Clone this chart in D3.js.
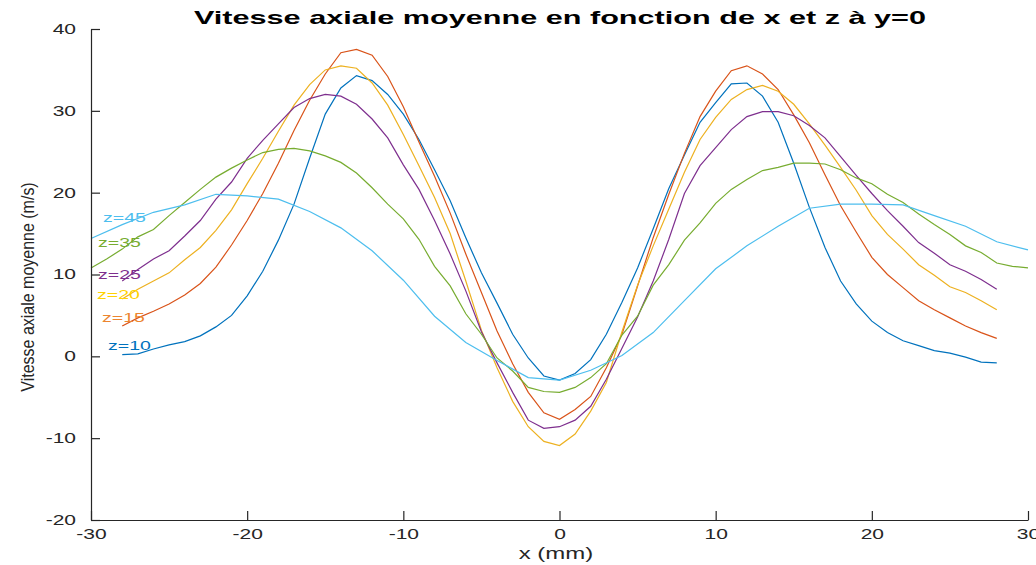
<!DOCTYPE html>
<html>
<head>
<meta charset="utf-8">
<script src="https://cdn.jsdelivr.net/npm/d3@7"></script>
<style>
  body { margin: 0; background: #fff; }
  svg { display: block; }
  text { font-family: "Liberation Sans", Arial, sans-serif; }
</style>
</head>
<body>
<svg width="1036" height="565"></svg>
<script>
// x positions (mm)
var xFine = [-28,-27,-26,-25,-24,-23,-22,-21,-20,-19,-18,-17,-16,-15,-14,-13,-12,-11,-10,-9,-8,-7,-6,-5,-4,-3,-2,-1,
  0,1,2,3,4,5,6,7,8,9,10,11,12,13,14,15,16,17,18,19,20,21,22,23,24,25,26,27,28];
var xWide = [-30,-29,-28,-27,-26,-25,-24,-23,-22,-21,-20,-19,-18,-17,-16,-15,-14,-13,-12,-11,-10,-9,-8,-7,-6,-5,-4,-3,-2,-1,
  0,1,2,3,4,5,6,7,8,9,10,11,12,13,14,15,16,17,18,19,20,21,22,23,24,25,26,27,28,29,30];
var xCoarse = [-30,-28,-26,-24,-22,-20,-18,-16,-14,-12,-10,-8,-6,-4,-2,0,2,4,6,8,10,12,14,16,18,20,22,24,26,28,30];

// mean axial velocity (m/s) for each z
var z10 = [0.2,0.3,0.9,1.4,1.8,2.5,3.6,5.0,7.4,10.4,14.2,18.6,24.2,29.6,32.8,34.3,33.7,32.0,29.6,26.5,
  22.8,19.0,14.5,10.2,6.5,2.7,-0.2,-2.4,-2.9,-2.1,-0.4,2.7,6.6,10.8,15.6,20.5,24.6,28.6,31.0,
  33.3,33.4,31.8,28.6,23.6,18.2,13.3,9.2,6.4,4.3,2.9,1.9,1.3,0.7,0.4,-0.1,-0.7,-0.8];
var z15 = [3.7,4.7,5.5,6.4,7.5,8.9,10.9,13.6,16.6,19.9,23.6,27.6,31.3,34.5,37.1,37.5,36.8,34.2,30.5,26.2,
  22.0,17.5,12.5,7.8,3.1,-0.9,-4.4,-6.9,-7.7,-6.5,-4.9,-1.4,2.7,8.6,14.5,19.8,24.8,29.3,32.4,
  34.9,35.5,34.5,32.6,29.5,26.1,22.2,18.4,15.2,12.1,10.0,8.4,6.8,5.7,4.7,3.7,2.9,2.2];
var z20 = [7.0,8.2,9.2,10.2,11.8,13.3,15.4,17.9,21.1,24.2,27.5,30.7,33.2,35.0,35.5,35.2,33.4,30.7,27.1,23.3,
  19.4,15.0,9.2,3.2,-1.4,-5.5,-8.6,-10.4,-10.9,-9.5,-6.7,-3.2,3.0,8.7,13.5,18.0,22.5,26.5,29.2,
  31.4,32.6,33.1,32.4,30.8,28.4,25.8,23.1,20.3,17.2,14.9,13.1,11.2,9.9,8.5,7.8,6.8,5.7];
var z25 = [9.2,10.6,11.9,12.9,14.7,16.6,19.2,21.3,24.2,26.4,28.4,30.4,31.5,32.0,31.8,30.8,29.0,26.7,23.4,20.4,
  16.6,12.5,8.0,3.0,-0.8,-4.4,-7.8,-8.8,-8.6,-7.8,-6.1,-2.8,1.0,4.8,9.2,14.3,19.9,23.3,25.5,
  27.7,29.3,29.9,29.9,29.4,28.2,26.7,24.4,22.1,19.9,17.8,15.9,13.9,12.6,11.2,10.4,9.4,8.2];
var z35 = [10.8,11.9,13.1,14.6,15.5,17.2,18.8,20.4,21.9,23.0,24.0,24.9,25.3,25.4,25.1,24.5,23.7,22.4,20.6,18.6,
  16.8,14.3,11.0,8.6,5.2,2.7,-0.2,-1.8,-3.8,-4.3,-4.4,-3.8,-2.6,-0.9,2.6,4.9,8.7,11.2,14.2,16.3,18.7,
  20.4,21.6,22.7,23.1,23.6,23.6,23.5,22.8,21.8,21.1,19.8,18.8,17.4,16.1,14.9,13.5,12.7,11.4,11.0,10.8];
var z45 = [14.4,16.1,17.6,18.5,19.8,19.6,19.2,17.7,15.7,12.9,9.3,4.9,1.7,-0.5,-2.6,-2.9,-1.7,0.1,2.9,6.8,
  10.7,13.5,15.9,18.1,18.6,18.6,18.5,17.2,15.9,14.0,13.0];

var seriesNames = ["z=10", "z=15", "z=20", "z=25", "z=35", "z=45"];
var xTicks = [-30, -20, -10, 0, 10, 20, 30];
var yTicks = [-20, -10, 0, 10, 20, 30, 40];

var series = [
  {name: seriesNames[0], xs: xFine, ys: z10, color: "#0072BD", text: "#0072BD", lx: 108, ly: 345},
  {name: seriesNames[1], xs: xFine, ys: z15, color: "#D95319", text: "#EC8530", lx: 102, ly: 317},
  {name: seriesNames[2], xs: xFine, ys: z20, color: "#EDB120", text: "#FFD200", lx: 97, ly: 294},
  {name: seriesNames[3], xs: xFine, ys: z25, color: "#7E2F8E", text: "#7E2F8E", lx: 98, ly: 274},
  {name: seriesNames[4], xs: xWide, ys: z35, color: "#77AC30", text: "#77AC30", lx: 98, ly: 242},
  {name: seriesNames[5], xs: xCoarse, ys: z45, color: "#4DBEEE", text: "#4DBEEE", lx: 103, ly: 217}
];

var svg = d3.select("svg"),
    sx = 1.5; /* text looks stretched sideways */

var x = d3.scaleLinear().domain([-30, 30]).range([91, 1028]);
var y = d3.scaleLinear().domain([-20, 40]).range([520, 29]);

var line = d3.line()
    .x(function(d) { return x(d[0]); })
    .y(function(d) { return y(d[1]); });

svg.append("g").selectAll("path")
  .data(series)
  .enter().append("path")
    .attr("d", function(s) { return line(s.xs.map(function(v, i) { return [v, s.ys[i]]; })); })
    .attr("fill", "none")
    .attr("stroke", function(s) { return s.color; })
    .attr("stroke-width", 1.2);

// axes (plain hyphen for negatives, like the original)
var axisColor = "#262626";
var fmt = function(d) { return String(d); };

var gx = svg.append("g")
    .attr("transform", "translate(0,520)")
    .call(d3.axisBottom(x).tickValues(xTicks).tickFormat(fmt).tickSize(-9).tickSizeOuter(0).tickPadding(9));
var gy = svg.append("g")
    .attr("transform", "translate(91,0)")
    .call(d3.axisLeft(y).tickValues(yTicks).tickFormat(fmt).tickSize(-9).tickSizeOuter(0).tickPadding(10));

[gx, gy].forEach(function(g) {
  g.select(".domain").attr("stroke", axisColor).attr("stroke-width", 1.2);
  g.selectAll(".tick line").attr("stroke", axisColor).attr("stroke-width", 1.2);
  g.selectAll(".tick text")
    .attr("fill", axisColor)
    .style("font-size", "14px")
    .attr("transform", "scale(" + sx + ",1)");
});

// line labels
svg.append("g").selectAll("text")
  .data(series)
  .enter().append("text")
    .attr("transform", function(s) { return "translate(" + s.lx + "," + s.ly + ") scale(" + sx + ",1)"; })
    .attr("dy", "0.35em")
    .attr("fill", function(s) { return s.text; })
    .style("font-size", "13px")
    .text(function(s) { return s.name; });

// title and axis labels
svg.append("text")
    .attr("transform", "translate(560,24) scale(1.75,1)")
    .attr("text-anchor", "middle")
    .style("font-size", "17.5px")
    .style("font-weight", "bold")
    .attr("fill", "#000")
    .text("Vitesse axiale moyenne en fonction de x et z à y=0");

svg.append("text")
    .attr("transform", "translate(556,559) scale(" + sx + ",1)")
    .attr("text-anchor", "middle")
    .style("font-size", "16px")
    .attr("fill", axisColor)
    .text("x (mm)");

svg.append("text")
    .attr("transform", "translate(34,287) scale(1.2,1) rotate(-90)")
    .attr("text-anchor", "middle")
    .style("font-family", "'Liberation Sans Narrow', 'Liberation Sans', sans-serif")
    .style("font-size", "16px")
    .attr("fill", axisColor)
    .text("Vitesse axiale moyenne (m/s)");
</script>
</body>
</html>
